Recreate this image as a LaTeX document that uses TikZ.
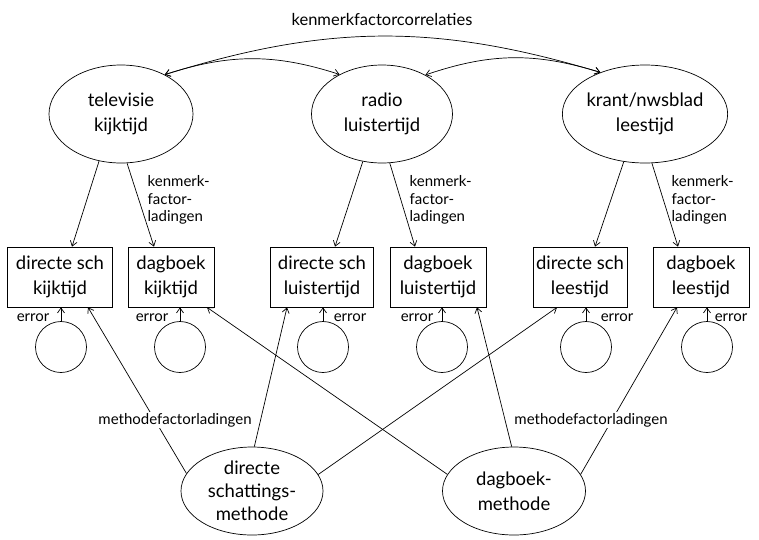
\documentclass[tikz,border=0pt]{standalone}
\usepackage{fontspec}
\setmainfont{Lato}
\usetikzlibrary{arrows.meta,shapes,calc}

\begin{document}
\begin{tikzpicture}[x = 1pt, y = -1pt, line width = .7pt,
  >={Straight Barb[length=5pt,width=7pt]},
  latent/.style = {draw, ellipse, inner sep = 0pt, minimum width = 144pt, minimum height = 98pt, align = center, font = \fontsize{18.5}{25}\selectfont},
  meas/.style = {draw, rectangle, inner sep = 0pt, minimum height = 60pt, align = center, font = \fontsize{18.5}{25}\selectfont},
  err/.style = {draw, circle, minimum size = 51pt, inner sep = 0pt},
  lbl/.style = {font = \fontsize{15}{17.5}\selectfont, align = left}]
  \useasboundingbox (0,0) rectangle (759,539);
  \node[lbl, font = \fontsize{16.5}{20}\selectfont] (kfc) at (382,19) {kenmerkfactorcorrelaties};
  \node[latent] (tv) at (121,114) {televisie\\kijktijd};
  \node[latent, minimum width = 141pt] (ra) at (382,114) {radio\\luistertijd};
  \node[latent] (kr) at (645,114) {krant/nwsblad\\leestijd};
  \node[meas, minimum width = 105pt] (b1) at (60,277) {directe sch\\kijktijd};
  \node[meas, minimum width = 86pt] (b2) at (171,277) {dagboek\\kijktijd};
  \node[meas, minimum width = 103pt] (b3) at (322,277) {directe sch\\luistertijd};
  \node[meas, minimum width = 96pt] (b4) at (438,277) {dagboek\\luistertijd};
  \node[meas, minimum width = 94pt] (b5) at (580,277) {directe sch\\leestijd};
  \node[meas, minimum width = 96pt] (b6) at (701,277) {dagboek\\leestijd};
  \node[err] (e1) at (61,347) {};
  \node[err] (e2) at (180,347) {};
  \node[err] (e3) at (323,347) {};
  \node[err] (e4) at (442,347) {};
  \node[err] (e5) at (586,347) {};
  \node[err] (e6) at (707,347) {};
  \node[latent, minimum width = 142pt, minimum height = 88pt, font = \fontsize{18.5}{23}\selectfont] (dm) at (252,491) {directe\\schattings-\\methode};
  \node[latent, minimum width = 143pt, minimum height = 88pt] (dg) at (514,491) {dagboek-\\methode};
  \draw[<->] (tv.42) to[bend left = 18] (ra.137);
  \draw[<->] (ra.42) to[bend left = 18] (kr.137);
  \draw[<->] (tv.42) to[bend left = 17] (kr.137);
  \draw[->] (tv.245) -- ([xshift = 12pt]b1.north);
  \draw[->] (tv.277) -- ([xshift = -17pt]b2.north);
  \draw[->] (ra.248) -- ([xshift = 13pt]b3.north);
  \draw[->] (ra.279) -- ([xshift = -23pt]b4.north);
  \draw[->] (kr.246) -- ([xshift = 15pt]b5.north);
  \draw[->] (kr.278) -- ([xshift = -23pt]b6.north);
  \node[lbl, anchor = west] (kl1) at (144,200) {kenmerk-\\factor-\\ladingen};
  \node[lbl, anchor = west] (kl2) at (406,200) {kenmerk-\\factor-\\ladingen};
  \node[lbl, anchor = west] (kl3) at (668,200) {kenmerk-\\factor-\\ladingen};
  \foreach \i in {1,...,6}
    \draw[->] (e\i.north) -- (e\i.north |- b\i.south);
  \node[lbl] (er1) at (33,318) {error};
  \node[lbl] (er2) at (152,318) {error};
  \node[lbl] (er3) at (350,318) {error};
  \node[lbl] (er4) at (417,318) {error};
  \node[lbl] (er5) at (617,318) {error};
  \node[lbl] (er6) at (731,318) {error};
  \draw[->] (dm.165) -- ([xshift = 28pt]b1.south);
  \draw[->] (dm.87) -- ([xshift = -35pt]b3.south);
  \draw[->] (dm.14) -- ([xshift = -23pt]b5.south);
  \draw[->] (dg.166) -- ([xshift = 36pt]b2.south);
  \draw[->] (dg.93) -- ([xshift = 39pt]b4.south);
  \draw[->] (dg.14) -- ([xshift = -24pt]b6.south);
  \node[lbl, fill = white, inner sep = 1pt] (ml1) at (175,420) {methodefactorladingen};
  \node[lbl, fill = white, inner sep = 1pt] (ml2) at (591,420) {methodefactorladingen};
\end{tikzpicture}
\end{document}
